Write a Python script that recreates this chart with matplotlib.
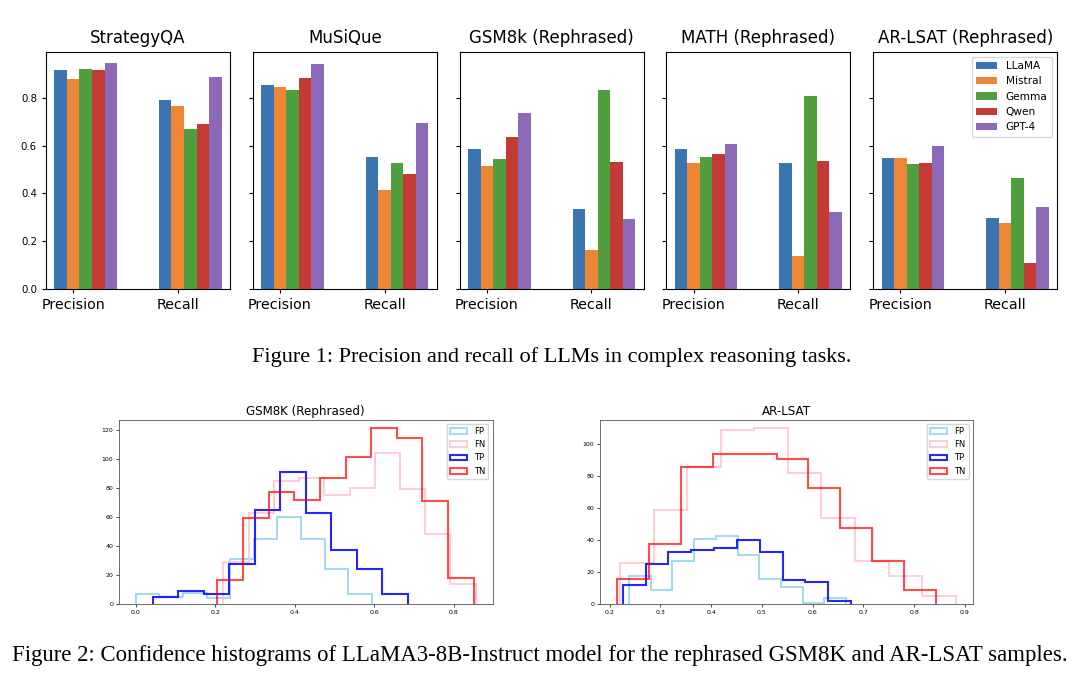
import numpy as np
import matplotlib
matplotlib.use("Agg")
from matplotlib import pyplot as plt

# ---- Figure 1 data: precision / recall per dataset and model ----
datasets = ["StrategyQA", "MuSiQue", "GSM8k (Rephrased)", "MATH (Rephrased)", "AR-LSAT (Rephrased)"]
models = ["LLaMA", "Mistral", "Gemma", "Qwen", "GPT-4"]
metrics = ["Precision", "Recall"]

precision = {
    "StrategyQA": [0.917, 0.881, 0.922, 0.919, 0.948],
    "MuSiQue": [0.857, 0.846, 0.835, 0.883, 0.945],
    "GSM8k (Rephrased)": [0.587, 0.517, 0.545, 0.639, 0.738],
    "MATH (Rephrased)": [0.586, 0.526, 0.555, 0.564, 0.607],
    "AR-LSAT (Rephrased)": [0.547, 0.547, 0.524, 0.529, 0.601],
}
recall = {
    "StrategyQA": [0.793, 0.769, 0.669, 0.692, 0.891],
    "MuSiQue": [0.554, 0.414, 0.529, 0.481, 0.698],
    "GSM8k (Rephrased)": [0.336, 0.162, 0.836, 0.533, 0.294],
    "MATH (Rephrased)": [0.529, 0.136, 0.808, 0.537, 0.324],
    "AR-LSAT (Rephrased)": [0.295, 0.278, 0.467, 0.109, 0.343],
}
bar_colors = ["#3a75b0", "#ef8636", "#519e3e", "#c43b35", "#8d6ab8"]

# ---- Figure 2 data: confidence histograms (10 bins per series) ----
hist_labels = ["FP", "FN", "TP", "TN"]
hist_colors = ["skyblue", "pink", "blue", "red"]
hist_alpha = [0.75, 0.75, 0.85, 0.7]

gsm_range = {"FP": (0.0, 0.594), "FN": (0.2206, 0.855), "TP": (0.0426, 0.684), "TN": (0.2056, 0.850)}
gsm_counts = {
    "FP": [7, 5, 8, 4, 31, 45, 60, 45, 24, 7],
    "FN": [29, 63, 85, 87, 75, 80, 104, 79, 48, 14],
    "TP": [5, 9, 7, 28, 65, 91, 63, 37, 24, 7],
    "TN": [17, 59, 77, 72, 87, 101, 121, 114, 71, 18],
}
lsat_range = {"FP": (0.238, 0.666), "FN": (0.2205, 0.8818), "TP": (0.226, 0.6757), "TN": (0.2144, 0.843)}
lsat_counts = {
    "FP": [18, 9, 27, 41, 43, 31, 16, 11, 1, 4],
    "FN": [26, 59, 86, 109, 110, 82, 54, 27, 18, 5],
    "TP": [12, 25, 33, 34, 35, 40, 33, 15, 14, 2],
    "TN": [16, 38, 86, 94, 94, 91, 73, 48, 27, 9],
}

W, H = 1080, 687
fig = plt.figure(figsize=(W / 100, H / 100), dpi=100)


def px_axes(left, top, right, bottom, **kw):
    return fig.add_axes([left / W, 1 - bottom / H, (right - left) / W, (bottom - top) / H], **kw)


# top row of bar charts
width = 0.12
x = np.arange(len(metrics))
first = None
for i, name in enumerate(datasets):
    left = 46 + i * 206.8
    ax = px_axes(left, 51.7, left + 184, 288.7, sharey=first)
    if first is None:
        first = ax
    for j, m in enumerate(models):
        ax.bar(x + j * width, [precision[name][j], recall[name][j]], width,
               color=bar_colors[j], label=m)
    ax.set_xticks(x + width)
    ax.set_xticklabels(metrics, fontsize=10.3)
    ax.set_title(name, fontsize=12)
    ax.tick_params(axis="y", labelsize=7.3, length=3)
    ax.tick_params(axis="x", length=3)
    if i > 0:
        ax.tick_params(axis="y", labelleft=False)
    if i == len(datasets) - 1:
        ax.legend(loc="upper right", fontsize=7.6)
first.set_yticks([0.0, 0.2, 0.4, 0.6, 0.8])

fig.text(552 / W, 1 - 357 / H, "Figure 1: Precision and recall of LLMs in complex reasoning tasks.",
         ha="center", va="center", family="Liberation Serif", fontsize=16)


def draw_hist(ax, ranges, counts, title):
    for lab, col, a in zip(hist_labels, hist_colors, hist_alpha):
        lo, hi = ranges[lab]
        edges = np.linspace(lo, hi, len(counts[lab]) + 1)
        ax.hist(edges[:-1], bins=edges, weights=counts[lab], histtype="step",
                color=col, alpha=a, linewidth=1.5, label=lab)
    ax.set_title(title, fontsize=8.6, pad=3)
    ax.tick_params(labelsize=4.5, length=2, width=0.5, pad=2)
    for s in ax.spines.values():
        s.set_linewidth(0.6)
        s.set_color("#555555")
    ax.legend(loc="upper right", fontsize=6)


ax_g = px_axes(118.7, 419.5, 492.6, 604.3)
draw_hist(ax_g, gsm_range, gsm_counts, "GSM8K (Rephrased)")
ax_g.set_xticks([0.0, 0.2, 0.4, 0.6, 0.8])
ax_g.set_yticks(range(0, 121, 20))

ax_l = px_axes(600, 419.5, 972.7, 604.3)
draw_hist(ax_l, lsat_range, lsat_counts, "AR-LSAT")
ax_l.set_xticks(np.arange(0.2, 0.95, 0.1))
ax_l.set_yticks(range(0, 101, 20))

fig.text(0.5, 1 - 655 / H,
         "Figure 2: Confidence histograms of LLaMA3-8B-Instruct model for the rephrased GSM8K and AR-LSAT samples.",
         ha="center", va="center", family="Liberation Serif", fontsize=16.4)

fig.savefig("out.png", dpi=100)
